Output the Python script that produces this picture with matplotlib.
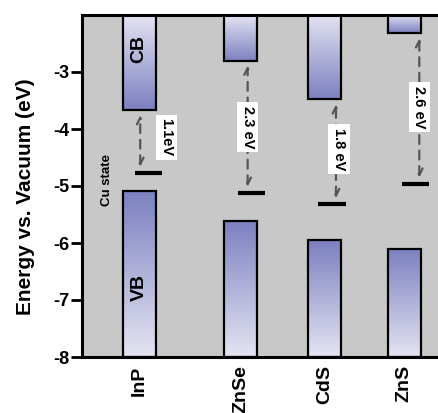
import numpy as np
import matplotlib
matplotlib.use('Agg')
import matplotlib.pyplot as plt
from matplotlib.colors import LinearSegmentedColormap

plt.rcParams['font.family'] = ['Liberation Sans', 'DejaVu Sans']
plt.rcParams['font.weight'] = 'bold'

# ---- data (eV vs. vacuum) ----
materials = ['InP', 'ZnSe', 'CdS', 'ZnS']
cb_edge   = [-3.67, -2.80, -3.48, -2.32]
vb_edge   = [-5.09, -5.61, -5.95, -6.10]
cu_state  = [-4.77, -5.12, -5.32, -4.96]
gap_text  = ['1.1eV', '2.3 eV', '1.8 eV', '2.6 eV']
y_ticks   = [-8, -7, -6, -5, -4, -3]

# ---- layout (x in units of 100 px) ----
x_pos     = [0.57, 1.58, 2.42, 3.21]
arrow_dx  = [0.01, 0.07, 0.11, 0.15]
cu_dx     = [0.09, 0.11, 0.07, 0.11]
label_dx  = [0.27, 0.07, 0.14, 0.15]
label_y   = [-4.15, -3.97, -4.35, -3.62]
bar_w     = 0.33
cu_w      = 0.27
top, bottom = -2.0, -8.0

fig = plt.figure(figsize=(4.39, 4.13), dpi=100)
ax = fig.add_axes([82/439, 56/413, 1 - 82/439 + 0.01, 342/413])
ax.set_facecolor('#c8c8c8')
ax.set_xlim(0, 3.6)
ax.set_ylim(bottom, top)

cmap = LinearSegmentedColormap.from_list('band', ['#e4e4f2', '#7c80c0'])
grad = np.linspace(0, 1, 256).reshape(-1, 1)

for i, x in enumerate(x_pos):
    x0, x1 = x - bar_w / 2, x + bar_w / 2
    # conduction band: dark at bottom
    ax.imshow(grad, cmap=cmap, aspect='auto', origin='upper',
              extent=[x0, x1, cb_edge[i], top], zorder=2)
    ax.add_patch(plt.Rectangle((x0, cb_edge[i]), bar_w, top - cb_edge[i],
                               fill=False, ec='black', lw=1.6, zorder=3))
    # valence band: dark at top
    ax.imshow(grad, cmap=cmap, aspect='auto', origin='lower',
              extent=[x0, x1, bottom, vb_edge[i]], zorder=2)
    ax.add_patch(plt.Rectangle((x0, bottom), bar_w, vb_edge[i] - bottom,
                               fill=False, ec='black', lw=1.6, zorder=3))
    # Cu state level
    cx = x + cu_dx[i]
    ax.plot([cx - cu_w / 2, cx + cu_w / 2], [cu_state[i]] * 2,
            color='black', lw=3, solid_capstyle='butt', zorder=4)
    # gap arrow
    ax_x = x + arrow_dx[i]
    ax.annotate('', xy=(ax_x, cb_edge[i] - 0.04), xytext=(ax_x, cu_state[i] + 0.06),
                arrowprops=dict(arrowstyle='<->', color='#555555', lw=1.6,
                                linestyle=(0, (4, 3)), mutation_scale=12),
                zorder=4)
    ax.text(x + label_dx[i], label_y[i], gap_text[i], rotation=-90,
            ha='center', va='center', fontsize=10.5, fontweight='bold',
            bbox=dict(boxstyle='square,pad=0.25', fc='white', ec='none'),
            zorder=5)

ax.text(x_pos[0], -2.6, 'CB', rotation=90, ha='center', va='center',
        fontsize=14, fontweight='bold', zorder=5)
ax.text(x_pos[0], -6.78, 'VB', rotation=90, ha='center', va='center',
        fontsize=14, fontweight='bold', zorder=5)
ax.text(0.25, -4.9, 'Cu state', rotation=90, ha='center', va='center',
        fontsize=9.5, fontweight='bold', zorder=5)

ax.set_yticks(y_ticks)
ax.set_yticklabels([str(t) for t in y_ticks], fontsize=13, fontweight='bold')
ax.set_xticks(x_pos)
ax.set_xticklabels(materials, rotation=90, fontsize=14, fontweight='bold')
ax.tick_params(axis='y', direction='out', length=8, width=2, pad=1)
ax.tick_params(axis='x', length=0, pad=6)
ax.set_ylabel('Energy vs. Vacuum (eV)', fontsize=15, fontweight='bold')
ax.yaxis.set_label_coords(-0.13, 0.47)

for s in ['left', 'bottom', 'top']:
    ax.spines[s].set_linewidth(2.2)
ax.spines['right'].set_visible(False)

fig.savefig('out.png', dpi=100)
